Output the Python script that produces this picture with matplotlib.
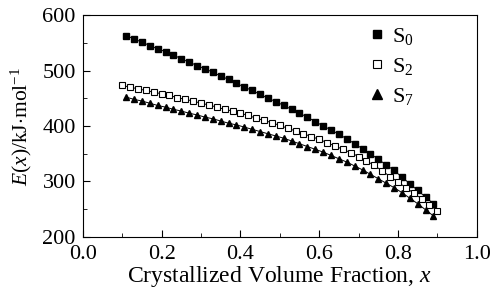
import numpy as np
import matplotlib.pyplot as plt
from matplotlib.ticker import MultipleLocator

plt.rcParams['font.family'] = 'Liberation Serif'
plt.rcParams['mathtext.fontset'] = 'custom'
plt.rcParams['mathtext.rm'] = 'Liberation Serif'
plt.rcParams['mathtext.it'] = 'Liberation Serif:italic'

# S0 and S7: x = 0.11 ... 0.89, step 0.02
x_s0 = [0.11, 0.13, 0.15, 0.17, 0.19, 0.21, 0.23, 0.25, 0.27, 0.29,
        0.31, 0.33, 0.35, 0.37, 0.39, 0.41, 0.43, 0.45, 0.47, 0.49,
        0.51, 0.53, 0.55, 0.57, 0.59, 0.61, 0.63, 0.65, 0.67, 0.69,
        0.71, 0.73, 0.75, 0.77, 0.79, 0.81, 0.83, 0.85, 0.87, 0.89]
e_s0 = [563, 557, 551, 545, 539, 534, 528, 521, 515, 509,
        503, 497, 490, 484, 477, 470, 464, 457, 450, 444,
        437, 430, 423, 416, 408, 400, 393, 385, 377, 368,
        359, 350, 340, 330, 320, 308, 296, 284, 272, 260]

x_s2 = [0.10, 0.12, 0.14, 0.16, 0.18, 0.20, 0.22, 0.24, 0.26, 0.28,
        0.30, 0.32, 0.34, 0.36, 0.38, 0.40, 0.42, 0.44, 0.46, 0.48,
        0.50, 0.52, 0.54, 0.56, 0.58, 0.60, 0.62, 0.64, 0.66, 0.68,
        0.70, 0.72, 0.74, 0.76, 0.78, 0.80, 0.82, 0.84, 0.86, 0.88, 0.90]
e_s2 = [473, 470, 467, 464, 461, 458, 455, 451, 448, 445,
        441, 438, 434, 430, 427, 423, 419, 414, 410, 406,
        401, 396, 391, 386, 381, 376, 370, 364, 358, 352,
        345, 337, 329, 319, 309, 299, 289, 279, 269, 258, 247]

x_s7 = x_s0
e_s7 = [452, 448, 445, 441, 437, 434, 430, 427, 423, 420,
        416, 413, 409, 405, 402, 398, 394, 390, 386, 382,
        378, 373, 368, 363, 358, 353, 347, 341, 335, 328,
        321, 313, 305, 297, 289, 280, 270, 260, 249, 238]

fig = plt.figure(figsize=(4.9, 3.0), dpi=100)
ax = fig.add_axes([0.169, 0.21, 0.804, 0.74])

ax.plot(x_s0, e_s0, color='black', lw=0.7)
ax.plot(x_s0, e_s0, 's', color='black', ms=4, label='S$_0$')
ax.plot(x_s2, e_s2, color='black', lw=0.7)
ax.plot(x_s2, e_s2, 's', mfc='white', mec='black', mew=0.8, ms=4, label='S$_2$')
ax.plot(x_s7, e_s7, color='black', lw=0.7)
ax.plot(x_s7, e_s7, '^', color='black', ms=4.5, label='S$_7$')

ax.set_xlim(0, 1.0)
ax.set_ylim(200, 600)
ax.xaxis.set_major_locator(MultipleLocator(0.2))
ax.xaxis.set_minor_locator(MultipleLocator(0.1))
ax.yaxis.set_major_locator(MultipleLocator(100))
ax.yaxis.set_minor_locator(MultipleLocator(50))
ax.tick_params(which='both', direction='in', labelsize=16)
ax.tick_params(which='major', length=5)
ax.tick_params(which='minor', length=3)
ax.tick_params(axis='x', pad=6)
ax.tick_params(axis='y', pad=5)
ax.set_xticks(np.arange(0, 1.01, 0.2))
ax.set_xticklabels(['0.0', '0.2', '0.4', '0.6', '0.8', '1.0'])

ax.set_xlabel('Crystallized Volume Fraction, $x$', fontsize=17, labelpad=0)
ax.set_ylabel('$E$($x$)/kJ$\\cdot$mol$^{-1}$', fontsize=15.5, labelpad=6)

ax.legend(loc='upper left', frameon=False, fontsize=16, handlelength=0.8,
          handletextpad=0.25, labelspacing=0.4, markerscale=1.5,
          bbox_to_anchor=(0.685, 1.02), borderaxespad=0.3)

fig.savefig('out.png', dpi=100)
